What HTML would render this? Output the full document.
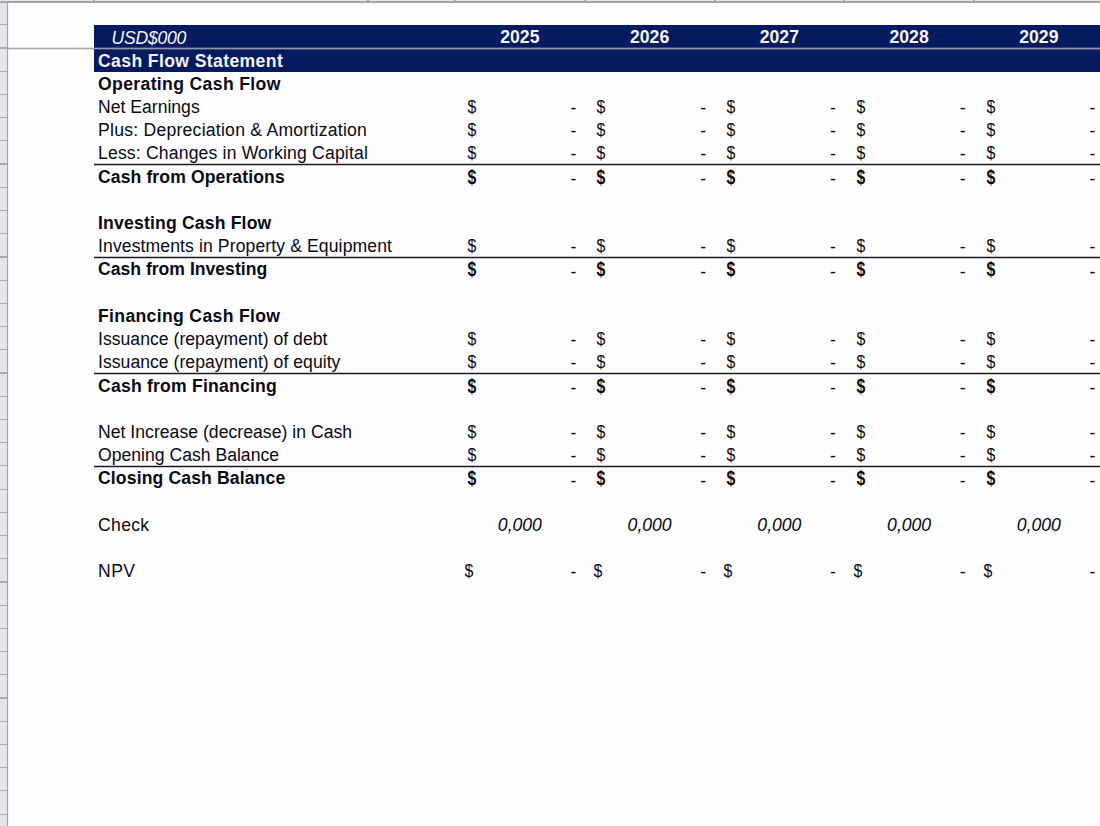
<!DOCTYPE html>
<html><head><meta charset="utf-8">
<style>
html,body{margin:0;padding:0;}
body{width:1100px;height:826px;overflow:hidden;position:relative;background:#fefdff;font-family:"Liberation Sans", sans-serif;color:#0a0a14;}
.t{position:absolute;white-space:nowrap;line-height:1em;}
.r{position:absolute;}
.b{font-weight:bold;}
.i{font-style:italic;}
.w{color:#f4f4fa;}
</style></head><body>
<div class="r" style="left:0.00px;top:0.00px;width:6.50px;height:826.00px;background:#e6e4e8"></div>
<div class="r" style="left:8.00px;top:0.00px;width:1.20px;height:826.00px;background:#f3f2f5"></div>
<div class="r" style="left:6.50px;top:0.00px;width:1.50px;height:826.00px;background:#a3a3a6"></div>
<div class="r" style="left:0.00px;top:0.98px;width:7.00px;height:1.20px;background:#a8a8ab"></div>
<div class="r" style="left:0.00px;top:24.20px;width:7.00px;height:1.20px;background:#a8a8ab"></div>
<div class="r" style="left:0.00px;top:47.41px;width:7.00px;height:1.20px;background:#a8a8ab"></div>
<div class="r" style="left:0.00px;top:70.63px;width:7.00px;height:1.20px;background:#a8a8ab"></div>
<div class="r" style="left:0.00px;top:93.84px;width:7.00px;height:1.20px;background:#a8a8ab"></div>
<div class="r" style="left:0.00px;top:117.06px;width:7.00px;height:1.20px;background:#a8a8ab"></div>
<div class="r" style="left:0.00px;top:140.28px;width:7.00px;height:1.20px;background:#a8a8ab"></div>
<div class="r" style="left:0.00px;top:163.49px;width:7.00px;height:1.20px;background:#a8a8ab"></div>
<div class="r" style="left:0.00px;top:186.70px;width:7.00px;height:1.20px;background:#a8a8ab"></div>
<div class="r" style="left:0.00px;top:209.92px;width:7.00px;height:1.20px;background:#a8a8ab"></div>
<div class="r" style="left:0.00px;top:233.13px;width:7.00px;height:1.20px;background:#a8a8ab"></div>
<div class="r" style="left:0.00px;top:256.35px;width:7.00px;height:1.20px;background:#a8a8ab"></div>
<div class="r" style="left:0.00px;top:279.56px;width:7.00px;height:1.20px;background:#a8a8ab"></div>
<div class="r" style="left:0.00px;top:302.78px;width:7.00px;height:1.20px;background:#a8a8ab"></div>
<div class="r" style="left:0.00px;top:326.00px;width:7.00px;height:1.20px;background:#a8a8ab"></div>
<div class="r" style="left:0.00px;top:349.21px;width:7.00px;height:1.20px;background:#a8a8ab"></div>
<div class="r" style="left:0.00px;top:372.43px;width:7.00px;height:1.20px;background:#a8a8ab"></div>
<div class="r" style="left:0.00px;top:395.64px;width:7.00px;height:1.20px;background:#a8a8ab"></div>
<div class="r" style="left:0.00px;top:418.85px;width:7.00px;height:1.20px;background:#a8a8ab"></div>
<div class="r" style="left:0.00px;top:442.07px;width:7.00px;height:1.20px;background:#a8a8ab"></div>
<div class="r" style="left:0.00px;top:465.28px;width:7.00px;height:1.20px;background:#a8a8ab"></div>
<div class="r" style="left:0.00px;top:488.50px;width:7.00px;height:1.20px;background:#a8a8ab"></div>
<div class="r" style="left:0.00px;top:511.72px;width:7.00px;height:1.20px;background:#a8a8ab"></div>
<div class="r" style="left:0.00px;top:534.93px;width:7.00px;height:1.20px;background:#a8a8ab"></div>
<div class="r" style="left:0.00px;top:558.15px;width:7.00px;height:1.20px;background:#a8a8ab"></div>
<div class="r" style="left:0.00px;top:581.36px;width:7.00px;height:1.20px;background:#a8a8ab"></div>
<div class="r" style="left:0.00px;top:604.58px;width:7.00px;height:1.20px;background:#a8a8ab"></div>
<div class="r" style="left:0.00px;top:627.79px;width:7.00px;height:1.20px;background:#a8a8ab"></div>
<div class="r" style="left:0.00px;top:651.00px;width:7.00px;height:1.20px;background:#a8a8ab"></div>
<div class="r" style="left:0.00px;top:674.22px;width:7.00px;height:1.20px;background:#a8a8ab"></div>
<div class="r" style="left:0.00px;top:697.44px;width:7.00px;height:1.20px;background:#a8a8ab"></div>
<div class="r" style="left:0.00px;top:720.65px;width:7.00px;height:1.20px;background:#a8a8ab"></div>
<div class="r" style="left:0.00px;top:743.87px;width:7.00px;height:1.20px;background:#a8a8ab"></div>
<div class="r" style="left:0.00px;top:767.08px;width:7.00px;height:1.20px;background:#a8a8ab"></div>
<div class="r" style="left:0.00px;top:790.30px;width:7.00px;height:1.20px;background:#a8a8ab"></div>
<div class="r" style="left:0.00px;top:813.51px;width:7.00px;height:1.20px;background:#a8a8ab"></div>
<div class="r" style="left:0.00px;top:0.00px;width:1100.00px;height:1.30px;background:#e8e8ea"></div>
<div class="r" style="left:0.00px;top:1.30px;width:1100.00px;height:1.40px;background:#a6a6a9"></div>
<div class="r" style="left:93.40px;top:0.00px;width:1.20px;height:2.00px;background:#a6a6a9"></div>
<div class="r" style="left:367.40px;top:0.00px;width:1.20px;height:2.00px;background:#a6a6a9"></div>
<div class="r" style="left:454.40px;top:0.00px;width:1.20px;height:2.00px;background:#a6a6a9"></div>
<div class="r" style="left:584.40px;top:0.00px;width:1.20px;height:2.00px;background:#a6a6a9"></div>
<div class="r" style="left:714.40px;top:0.00px;width:1.20px;height:2.00px;background:#a6a6a9"></div>
<div class="r" style="left:843.40px;top:0.00px;width:1.20px;height:2.00px;background:#a6a6a9"></div>
<div class="r" style="left:973.40px;top:0.00px;width:1.20px;height:2.00px;background:#a6a6a9"></div>
<div class="r" style="left:94.20px;top:24.70px;width:1005.80px;height:47.30px;background:#061b5f"></div>
<div class="r" style="left:8.00px;top:47.00px;width:86.00px;height:1.00px;background:#e2e1e4"></div>
<div class="r" style="left:8.00px;top:49.00px;width:86.00px;height:1.00px;background:#e2e1e4"></div>
<div class="r" style="left:8.00px;top:48.00px;width:86.00px;height:1.00px;background:#a8a6ab"></div>
<div class="r" style="left:94.00px;top:48.00px;width:1006.00px;height:1.00px;background:#9098ab"></div>
<div class="r" style="left:94.00px;top:47.00px;width:1006.00px;height:1.00px;background:#3a4677"></div>
<div class="r" style="left:94.00px;top:49.00px;width:1006.00px;height:1.00px;background:#3a4677"></div>
<div class="t w i" style="left:111.60px;top:29.80px;font-size:17.6px;letter-spacing:-0.25px;">USD$000</div>
<div class="t w b" style="left:455.00px;top:29.30px;font-size:17.6px;width:129.75px;text-align:center;">2025</div>
<div class="t w b" style="left:584.75px;top:29.30px;font-size:17.6px;width:129.75px;text-align:center;">2026</div>
<div class="t w b" style="left:714.50px;top:29.30px;font-size:17.6px;width:129.75px;text-align:center;">2027</div>
<div class="t w b" style="left:844.25px;top:29.30px;font-size:17.6px;width:129.75px;text-align:center;">2028</div>
<div class="t w b" style="left:974.00px;top:29.30px;font-size:17.6px;width:129.75px;text-align:center;">2029</div>
<div class="t w b" style="left:98.00px;top:52.52px;font-size:17.6px;letter-spacing:0.38px;">Cash Flow Statement</div>
<div class="t b" style="left:98.00px;top:75.73px;font-size:17.6px;letter-spacing:0.356px;">Operating Cash Flow</div>
<div class="t " style="left:98.00px;top:98.95px;font-size:17.6px;letter-spacing:0.0px;">Net Earnings</div>
<div class="t " style="left:466.50px;top:98.95px;font-size:17.6px;transform:scaleX(0.9);transform-origin:5px 9px;">$</div>
<div class="t " style="left:455.00px;top:99.95px;font-size:17.6px;width:121.35px;text-align:right;">-</div>
<div class="t " style="left:596.25px;top:98.95px;font-size:17.6px;transform:scaleX(0.9);transform-origin:5px 9px;">$</div>
<div class="t " style="left:584.75px;top:99.95px;font-size:17.6px;width:121.35px;text-align:right;">-</div>
<div class="t " style="left:726.00px;top:98.95px;font-size:17.6px;transform:scaleX(0.9);transform-origin:5px 9px;">$</div>
<div class="t " style="left:714.50px;top:99.95px;font-size:17.6px;width:121.35px;text-align:right;">-</div>
<div class="t " style="left:855.75px;top:98.95px;font-size:17.6px;transform:scaleX(0.9);transform-origin:5px 9px;">$</div>
<div class="t " style="left:844.25px;top:99.95px;font-size:17.6px;width:121.35px;text-align:right;">-</div>
<div class="t " style="left:985.50px;top:98.95px;font-size:17.6px;transform:scaleX(0.9);transform-origin:5px 9px;">$</div>
<div class="t " style="left:974.00px;top:99.95px;font-size:17.6px;width:121.35px;text-align:right;">-</div>
<div class="t " style="left:98.00px;top:122.16px;font-size:17.6px;letter-spacing:0.244px;">Plus: Depreciation &amp; Amortization</div>
<div class="t " style="left:466.50px;top:122.16px;font-size:17.6px;transform:scaleX(0.9);transform-origin:5px 9px;">$</div>
<div class="t " style="left:455.00px;top:123.16px;font-size:17.6px;width:121.35px;text-align:right;">-</div>
<div class="t " style="left:596.25px;top:122.16px;font-size:17.6px;transform:scaleX(0.9);transform-origin:5px 9px;">$</div>
<div class="t " style="left:584.75px;top:123.16px;font-size:17.6px;width:121.35px;text-align:right;">-</div>
<div class="t " style="left:726.00px;top:122.16px;font-size:17.6px;transform:scaleX(0.9);transform-origin:5px 9px;">$</div>
<div class="t " style="left:714.50px;top:123.16px;font-size:17.6px;width:121.35px;text-align:right;">-</div>
<div class="t " style="left:855.75px;top:122.16px;font-size:17.6px;transform:scaleX(0.9);transform-origin:5px 9px;">$</div>
<div class="t " style="left:844.25px;top:123.16px;font-size:17.6px;width:121.35px;text-align:right;">-</div>
<div class="t " style="left:985.50px;top:122.16px;font-size:17.6px;transform:scaleX(0.9);transform-origin:5px 9px;">$</div>
<div class="t " style="left:974.00px;top:123.16px;font-size:17.6px;width:121.35px;text-align:right;">-</div>
<div class="t " style="left:98.00px;top:145.38px;font-size:17.6px;letter-spacing:0.165px;">Less: Changes in Working Capital</div>
<div class="t " style="left:466.50px;top:145.38px;font-size:17.6px;transform:scaleX(0.9);transform-origin:5px 9px;">$</div>
<div class="t " style="left:455.00px;top:146.38px;font-size:17.6px;width:121.35px;text-align:right;">-</div>
<div class="t " style="left:596.25px;top:145.38px;font-size:17.6px;transform:scaleX(0.9);transform-origin:5px 9px;">$</div>
<div class="t " style="left:584.75px;top:146.38px;font-size:17.6px;width:121.35px;text-align:right;">-</div>
<div class="t " style="left:726.00px;top:145.38px;font-size:17.6px;transform:scaleX(0.9);transform-origin:5px 9px;">$</div>
<div class="t " style="left:714.50px;top:146.38px;font-size:17.6px;width:121.35px;text-align:right;">-</div>
<div class="t " style="left:855.75px;top:145.38px;font-size:17.6px;transform:scaleX(0.9);transform-origin:5px 9px;">$</div>
<div class="t " style="left:844.25px;top:146.38px;font-size:17.6px;width:121.35px;text-align:right;">-</div>
<div class="t " style="left:985.50px;top:145.38px;font-size:17.6px;transform:scaleX(0.9);transform-origin:5px 9px;">$</div>
<div class="t " style="left:974.00px;top:146.38px;font-size:17.6px;width:121.35px;text-align:right;">-</div>
<div class="t b" style="left:98.00px;top:168.59px;font-size:17.6px;letter-spacing:0.1px;">Cash from Operations</div>
<div class="t b" style="left:466.50px;top:168.59px;font-size:17.6px;transform:scale(0.9,1.12);transform-origin:5px 9px;">$</div>
<div class="t " style="left:455.00px;top:170.79px;font-size:17.6px;width:121.35px;text-align:right;">-</div>
<div class="t b" style="left:596.25px;top:168.59px;font-size:17.6px;transform:scale(0.9,1.12);transform-origin:5px 9px;">$</div>
<div class="t " style="left:584.75px;top:170.79px;font-size:17.6px;width:121.35px;text-align:right;">-</div>
<div class="t b" style="left:726.00px;top:168.59px;font-size:17.6px;transform:scale(0.9,1.12);transform-origin:5px 9px;">$</div>
<div class="t " style="left:714.50px;top:170.79px;font-size:17.6px;width:121.35px;text-align:right;">-</div>
<div class="t b" style="left:855.75px;top:168.59px;font-size:17.6px;transform:scale(0.9,1.12);transform-origin:5px 9px;">$</div>
<div class="t " style="left:844.25px;top:170.79px;font-size:17.6px;width:121.35px;text-align:right;">-</div>
<div class="t b" style="left:985.50px;top:168.59px;font-size:17.6px;transform:scale(0.9,1.12);transform-origin:5px 9px;">$</div>
<div class="t " style="left:974.00px;top:170.79px;font-size:17.6px;width:121.35px;text-align:right;">-</div>
<div class="t b" style="left:98.00px;top:215.02px;font-size:17.6px;letter-spacing:0.178px;">Investing Cash Flow</div>
<div class="t " style="left:98.00px;top:238.24px;font-size:17.6px;letter-spacing:0.103px;">Investments in Property &amp; Equipment</div>
<div class="t " style="left:466.50px;top:238.24px;font-size:17.6px;transform:scaleX(0.9);transform-origin:5px 9px;">$</div>
<div class="t " style="left:455.00px;top:239.24px;font-size:17.6px;width:121.35px;text-align:right;">-</div>
<div class="t " style="left:596.25px;top:238.24px;font-size:17.6px;transform:scaleX(0.9);transform-origin:5px 9px;">$</div>
<div class="t " style="left:584.75px;top:239.24px;font-size:17.6px;width:121.35px;text-align:right;">-</div>
<div class="t " style="left:726.00px;top:238.24px;font-size:17.6px;transform:scaleX(0.9);transform-origin:5px 9px;">$</div>
<div class="t " style="left:714.50px;top:239.24px;font-size:17.6px;width:121.35px;text-align:right;">-</div>
<div class="t " style="left:855.75px;top:238.24px;font-size:17.6px;transform:scaleX(0.9);transform-origin:5px 9px;">$</div>
<div class="t " style="left:844.25px;top:239.24px;font-size:17.6px;width:121.35px;text-align:right;">-</div>
<div class="t " style="left:985.50px;top:238.24px;font-size:17.6px;transform:scaleX(0.9);transform-origin:5px 9px;">$</div>
<div class="t " style="left:974.00px;top:239.24px;font-size:17.6px;width:121.35px;text-align:right;">-</div>
<div class="t b" style="left:98.00px;top:261.45px;font-size:17.6px;letter-spacing:0.0px;">Cash from Investing</div>
<div class="t b" style="left:466.50px;top:261.45px;font-size:17.6px;transform:scale(0.9,1.12);transform-origin:5px 9px;">$</div>
<div class="t " style="left:455.00px;top:263.65px;font-size:17.6px;width:121.35px;text-align:right;">-</div>
<div class="t b" style="left:596.25px;top:261.45px;font-size:17.6px;transform:scale(0.9,1.12);transform-origin:5px 9px;">$</div>
<div class="t " style="left:584.75px;top:263.65px;font-size:17.6px;width:121.35px;text-align:right;">-</div>
<div class="t b" style="left:726.00px;top:261.45px;font-size:17.6px;transform:scale(0.9,1.12);transform-origin:5px 9px;">$</div>
<div class="t " style="left:714.50px;top:263.65px;font-size:17.6px;width:121.35px;text-align:right;">-</div>
<div class="t b" style="left:855.75px;top:261.45px;font-size:17.6px;transform:scale(0.9,1.12);transform-origin:5px 9px;">$</div>
<div class="t " style="left:844.25px;top:263.65px;font-size:17.6px;width:121.35px;text-align:right;">-</div>
<div class="t b" style="left:985.50px;top:261.45px;font-size:17.6px;transform:scale(0.9,1.12);transform-origin:5px 9px;">$</div>
<div class="t " style="left:974.00px;top:263.65px;font-size:17.6px;width:121.35px;text-align:right;">-</div>
<div class="t b" style="left:98.00px;top:307.88px;font-size:17.6px;letter-spacing:0.339px;">Financing Cash Flow</div>
<div class="t " style="left:98.00px;top:331.10px;font-size:17.6px;letter-spacing:0.022px;">Issuance (repayment) of debt</div>
<div class="t " style="left:466.50px;top:331.10px;font-size:17.6px;transform:scaleX(0.9);transform-origin:5px 9px;">$</div>
<div class="t " style="left:455.00px;top:332.10px;font-size:17.6px;width:121.35px;text-align:right;">-</div>
<div class="t " style="left:596.25px;top:331.10px;font-size:17.6px;transform:scaleX(0.9);transform-origin:5px 9px;">$</div>
<div class="t " style="left:584.75px;top:332.10px;font-size:17.6px;width:121.35px;text-align:right;">-</div>
<div class="t " style="left:726.00px;top:331.10px;font-size:17.6px;transform:scaleX(0.9);transform-origin:5px 9px;">$</div>
<div class="t " style="left:714.50px;top:332.10px;font-size:17.6px;width:121.35px;text-align:right;">-</div>
<div class="t " style="left:855.75px;top:331.10px;font-size:17.6px;transform:scaleX(0.9);transform-origin:5px 9px;">$</div>
<div class="t " style="left:844.25px;top:332.10px;font-size:17.6px;width:121.35px;text-align:right;">-</div>
<div class="t " style="left:985.50px;top:331.10px;font-size:17.6px;transform:scaleX(0.9);transform-origin:5px 9px;">$</div>
<div class="t " style="left:974.00px;top:332.10px;font-size:17.6px;width:121.35px;text-align:right;">-</div>
<div class="t " style="left:98.00px;top:354.31px;font-size:17.6px;letter-spacing:0.028px;">Issuance (repayment) of equity</div>
<div class="t " style="left:466.50px;top:354.31px;font-size:17.6px;transform:scaleX(0.9);transform-origin:5px 9px;">$</div>
<div class="t " style="left:455.00px;top:355.31px;font-size:17.6px;width:121.35px;text-align:right;">-</div>
<div class="t " style="left:596.25px;top:354.31px;font-size:17.6px;transform:scaleX(0.9);transform-origin:5px 9px;">$</div>
<div class="t " style="left:584.75px;top:355.31px;font-size:17.6px;width:121.35px;text-align:right;">-</div>
<div class="t " style="left:726.00px;top:354.31px;font-size:17.6px;transform:scaleX(0.9);transform-origin:5px 9px;">$</div>
<div class="t " style="left:714.50px;top:355.31px;font-size:17.6px;width:121.35px;text-align:right;">-</div>
<div class="t " style="left:855.75px;top:354.31px;font-size:17.6px;transform:scaleX(0.9);transform-origin:5px 9px;">$</div>
<div class="t " style="left:844.25px;top:355.31px;font-size:17.6px;width:121.35px;text-align:right;">-</div>
<div class="t " style="left:985.50px;top:354.31px;font-size:17.6px;transform:scaleX(0.9);transform-origin:5px 9px;">$</div>
<div class="t " style="left:974.00px;top:355.31px;font-size:17.6px;width:121.35px;text-align:right;">-</div>
<div class="t b" style="left:98.00px;top:377.53px;font-size:17.6px;letter-spacing:0.206px;">Cash from Financing</div>
<div class="t b" style="left:466.50px;top:377.53px;font-size:17.6px;transform:scale(0.9,1.12);transform-origin:5px 9px;">$</div>
<div class="t " style="left:455.00px;top:379.73px;font-size:17.6px;width:121.35px;text-align:right;">-</div>
<div class="t b" style="left:596.25px;top:377.53px;font-size:17.6px;transform:scale(0.9,1.12);transform-origin:5px 9px;">$</div>
<div class="t " style="left:584.75px;top:379.73px;font-size:17.6px;width:121.35px;text-align:right;">-</div>
<div class="t b" style="left:726.00px;top:377.53px;font-size:17.6px;transform:scale(0.9,1.12);transform-origin:5px 9px;">$</div>
<div class="t " style="left:714.50px;top:379.73px;font-size:17.6px;width:121.35px;text-align:right;">-</div>
<div class="t b" style="left:855.75px;top:377.53px;font-size:17.6px;transform:scale(0.9,1.12);transform-origin:5px 9px;">$</div>
<div class="t " style="left:844.25px;top:379.73px;font-size:17.6px;width:121.35px;text-align:right;">-</div>
<div class="t b" style="left:985.50px;top:377.53px;font-size:17.6px;transform:scale(0.9,1.12);transform-origin:5px 9px;">$</div>
<div class="t " style="left:974.00px;top:379.73px;font-size:17.6px;width:121.35px;text-align:right;">-</div>
<div class="t " style="left:98.00px;top:423.96px;font-size:17.6px;letter-spacing:0.027px;">Net Increase (decrease) in Cash</div>
<div class="t " style="left:466.50px;top:423.96px;font-size:17.6px;transform:scaleX(0.9);transform-origin:5px 9px;">$</div>
<div class="t " style="left:455.00px;top:424.96px;font-size:17.6px;width:121.35px;text-align:right;">-</div>
<div class="t " style="left:596.25px;top:423.96px;font-size:17.6px;transform:scaleX(0.9);transform-origin:5px 9px;">$</div>
<div class="t " style="left:584.75px;top:424.96px;font-size:17.6px;width:121.35px;text-align:right;">-</div>
<div class="t " style="left:726.00px;top:423.96px;font-size:17.6px;transform:scaleX(0.9);transform-origin:5px 9px;">$</div>
<div class="t " style="left:714.50px;top:424.96px;font-size:17.6px;width:121.35px;text-align:right;">-</div>
<div class="t " style="left:855.75px;top:423.96px;font-size:17.6px;transform:scaleX(0.9);transform-origin:5px 9px;">$</div>
<div class="t " style="left:844.25px;top:424.96px;font-size:17.6px;width:121.35px;text-align:right;">-</div>
<div class="t " style="left:985.50px;top:423.96px;font-size:17.6px;transform:scaleX(0.9);transform-origin:5px 9px;">$</div>
<div class="t " style="left:974.00px;top:424.96px;font-size:17.6px;width:121.35px;text-align:right;">-</div>
<div class="t " style="left:98.00px;top:447.17px;font-size:17.6px;letter-spacing:0.005px;">Opening Cash Balance</div>
<div class="t " style="left:466.50px;top:447.17px;font-size:17.6px;transform:scaleX(0.9);transform-origin:5px 9px;">$</div>
<div class="t " style="left:455.00px;top:448.17px;font-size:17.6px;width:121.35px;text-align:right;">-</div>
<div class="t " style="left:596.25px;top:447.17px;font-size:17.6px;transform:scaleX(0.9);transform-origin:5px 9px;">$</div>
<div class="t " style="left:584.75px;top:448.17px;font-size:17.6px;width:121.35px;text-align:right;">-</div>
<div class="t " style="left:726.00px;top:447.17px;font-size:17.6px;transform:scaleX(0.9);transform-origin:5px 9px;">$</div>
<div class="t " style="left:714.50px;top:448.17px;font-size:17.6px;width:121.35px;text-align:right;">-</div>
<div class="t " style="left:855.75px;top:447.17px;font-size:17.6px;transform:scaleX(0.9);transform-origin:5px 9px;">$</div>
<div class="t " style="left:844.25px;top:448.17px;font-size:17.6px;width:121.35px;text-align:right;">-</div>
<div class="t " style="left:985.50px;top:447.17px;font-size:17.6px;transform:scaleX(0.9);transform-origin:5px 9px;">$</div>
<div class="t " style="left:974.00px;top:448.17px;font-size:17.6px;width:121.35px;text-align:right;">-</div>
<div class="t b" style="left:98.00px;top:470.39px;font-size:17.6px;letter-spacing:0.126px;">Closing Cash Balance</div>
<div class="t b" style="left:466.50px;top:470.39px;font-size:17.6px;transform:scale(0.9,1.12);transform-origin:5px 9px;">$</div>
<div class="t " style="left:455.00px;top:472.59px;font-size:17.6px;width:121.35px;text-align:right;">-</div>
<div class="t b" style="left:596.25px;top:470.39px;font-size:17.6px;transform:scale(0.9,1.12);transform-origin:5px 9px;">$</div>
<div class="t " style="left:584.75px;top:472.59px;font-size:17.6px;width:121.35px;text-align:right;">-</div>
<div class="t b" style="left:726.00px;top:470.39px;font-size:17.6px;transform:scale(0.9,1.12);transform-origin:5px 9px;">$</div>
<div class="t " style="left:714.50px;top:472.59px;font-size:17.6px;width:121.35px;text-align:right;">-</div>
<div class="t b" style="left:855.75px;top:470.39px;font-size:17.6px;transform:scale(0.9,1.12);transform-origin:5px 9px;">$</div>
<div class="t " style="left:844.25px;top:472.59px;font-size:17.6px;width:121.35px;text-align:right;">-</div>
<div class="t b" style="left:985.50px;top:470.39px;font-size:17.6px;transform:scale(0.9,1.12);transform-origin:5px 9px;">$</div>
<div class="t " style="left:974.00px;top:472.59px;font-size:17.6px;width:121.35px;text-align:right;">-</div>
<div class="t " style="left:98.00px;top:516.82px;font-size:17.6px;letter-spacing:0.325px;">Check</div>
<div class="t i" style="left:455.00px;top:516.82px;font-size:17.6px;width:129.75px;text-align:center;">0,000</div>
<div class="t i" style="left:584.75px;top:516.82px;font-size:17.6px;width:129.75px;text-align:center;">0,000</div>
<div class="t i" style="left:714.50px;top:516.82px;font-size:17.6px;width:129.75px;text-align:center;">0,000</div>
<div class="t i" style="left:844.25px;top:516.82px;font-size:17.6px;width:129.75px;text-align:center;">0,000</div>
<div class="t i" style="left:974.00px;top:516.82px;font-size:17.6px;width:129.75px;text-align:center;">0,000</div>
<div class="t " style="left:98.00px;top:563.25px;font-size:17.6px;letter-spacing:0.45px;">NPV</div>
<div class="t " style="left:463.60px;top:563.25px;font-size:17.6px;transform:scaleX(0.9);transform-origin:5px 9px;">$</div>
<div class="t " style="left:455.00px;top:564.25px;font-size:17.6px;width:121.35px;text-align:right;">-</div>
<div class="t " style="left:593.35px;top:563.25px;font-size:17.6px;transform:scaleX(0.9);transform-origin:5px 9px;">$</div>
<div class="t " style="left:584.75px;top:564.25px;font-size:17.6px;width:121.35px;text-align:right;">-</div>
<div class="t " style="left:723.10px;top:563.25px;font-size:17.6px;transform:scaleX(0.9);transform-origin:5px 9px;">$</div>
<div class="t " style="left:714.50px;top:564.25px;font-size:17.6px;width:121.35px;text-align:right;">-</div>
<div class="t " style="left:852.85px;top:563.25px;font-size:17.6px;transform:scaleX(0.9);transform-origin:5px 9px;">$</div>
<div class="t " style="left:844.25px;top:564.25px;font-size:17.6px;width:121.35px;text-align:right;">-</div>
<div class="t " style="left:982.60px;top:563.25px;font-size:17.6px;transform:scaleX(0.9);transform-origin:5px 9px;">$</div>
<div class="t " style="left:974.00px;top:564.25px;font-size:17.6px;width:121.35px;text-align:right;">-</div>
<div class="r" style="left:94.00px;top:163.00px;width:1006.00px;height:1.00px;background:#c4c3c8"></div>
<div class="r" style="left:94.00px;top:164.00px;width:1006.00px;height:1.00px;background:#1c1a20"></div>
<div class="r" style="left:94.00px;top:165.00px;width:1006.00px;height:1.00px;background:#c4c3c8"></div>
<div class="r" style="left:94.00px;top:256.00px;width:1006.00px;height:1.00px;background:#c4c3c8"></div>
<div class="r" style="left:94.00px;top:257.00px;width:1006.00px;height:1.00px;background:#1c1a20"></div>
<div class="r" style="left:94.00px;top:258.00px;width:1006.00px;height:1.00px;background:#c4c3c8"></div>
<div class="r" style="left:94.00px;top:372.00px;width:1006.00px;height:1.00px;background:#c4c3c8"></div>
<div class="r" style="left:94.00px;top:373.00px;width:1006.00px;height:1.00px;background:#1c1a20"></div>
<div class="r" style="left:94.00px;top:374.00px;width:1006.00px;height:1.00px;background:#c4c3c8"></div>
<div class="r" style="left:94.00px;top:465.00px;width:1006.00px;height:1.00px;background:#c4c3c8"></div>
<div class="r" style="left:94.00px;top:466.00px;width:1006.00px;height:1.00px;background:#1c1a20"></div>
<div class="r" style="left:94.00px;top:467.00px;width:1006.00px;height:1.00px;background:#c4c3c8"></div>
</body></html>
